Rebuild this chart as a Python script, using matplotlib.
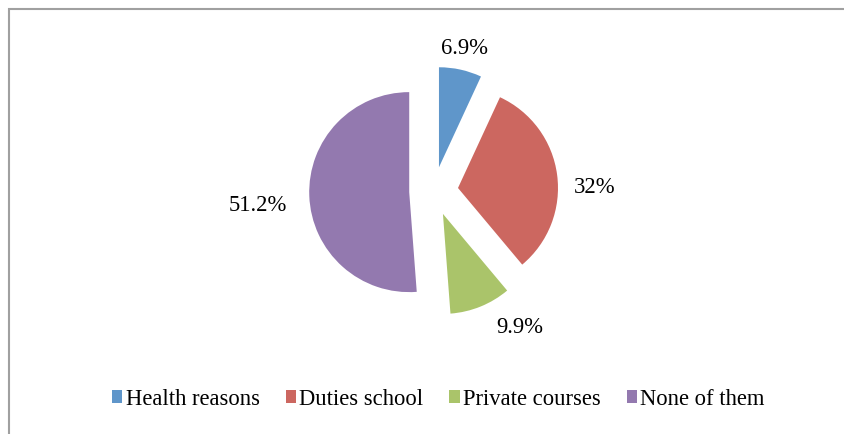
import matplotlib
matplotlib.use("Agg")
import matplotlib.pyplot as plt
from matplotlib.patches import Rectangle

categories = ["Health reasons", "Duties school", "Private courses", "None of them"]
values = [6.9, 32, 9.9, 51.2]
value_labels = ["6.9%", "32%", "9.9%", "51.2%"]
colors = ["#5F96CA", "#CC6760", "#AAC46A", "#9379AF"]

W, H = 845, 435
plt.rcParams["font.family"] = ["Liberation Serif", "DejaVu Serif"]
FS = 16.3

fig = plt.figure(figsize=(W / 100, H / 100), dpi=100)
ax = fig.add_axes([0, 0, 1, 1])

R = 100
wedges, _ = ax.pie(values, colors=colors, startangle=90, counterclock=False,
                   radius=R, center=(433.7, H - 192.2),
                   explode=[0.245 * R] * 4,
                   wedgeprops=dict(linewidth=0), frame=True)
ax.set_xlim(0, W)
ax.set_ylim(0, H)
ax.set_aspect("equal")
ax.axis("off")

# label positions (pixel coords, layout only)
label_px = [(465, 49), (595, 188), (520, 328), (258, 206)]
for (px, py), t in zip(label_px, value_labels):
    ax.text(px, H - py, t, ha="center", va="center", fontsize=FS, color="#000000")

# outer chart border (partially visible)
ax.add_patch(Rectangle((9.5, -30), 1000, H - 10 + 30, fill=False,
                       edgecolor="#A0A0A0", linewidth=1.5, clip_on=False))

leg = ax.legend(wedges, categories, loc="center", bbox_to_anchor=(438.5 / W, 1 - 400 / H),
                bbox_transform=fig.transFigure, ncol=4, frameon=False,
                fontsize=FS, handlelength=0.45, handleheight=0.45,
                handletextpad=0.15, columnspacing=1.15)

fig.savefig("out.png", dpi=100)
